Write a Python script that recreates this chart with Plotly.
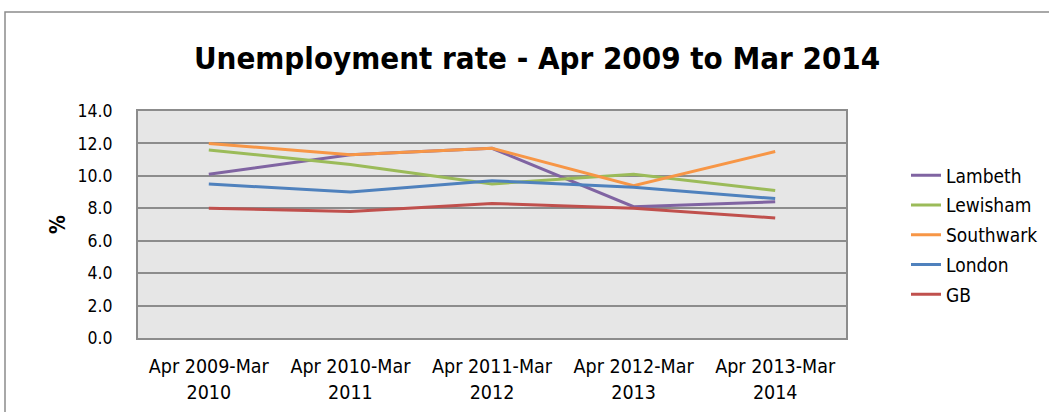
import plotly.graph_objects as go

categories = ["Apr 2009-Mar<br>2010", "Apr 2010-Mar<br>2011", "Apr 2011-Mar<br>2012",
              "Apr 2012-Mar<br>2013", "Apr 2013-Mar<br>2014"]
lambeth = [10.1, 11.3, 11.7, 8.1, 8.4]
lewisham = [11.6, 10.7, 9.5, 10.1, 9.1]
southwark = [12.0, 11.3, 11.7, 9.4, 11.5]
london = [9.5, 9.0, 9.7, 9.3, 8.6]
gb = [8.0, 7.8, 8.3, 8.0, 7.4]
y_ticks = [0, 2, 4, 6, 8, 10, 12, 14]

series = [
    ("Lambeth", lambeth, "#8064A2"),
    ("Lewisham", lewisham, "#9BBB59"),
    ("Southwark", southwark, "#F79646"),
    ("London", london, "#4F81BD"),
    ("GB", gb, "#C0504D"),
]

fig = go.Figure()
for name, vals, color in series:
    fig.add_trace(go.Scatter(x=categories, y=vals, name=name, mode="lines",
                             legendgroup=name,
                             line=dict(color=color, width=3)))

W, H = 1049, 412
ml, mr, mt, mb = 138, 203, 111, 74
pw = W - ml - mr
ph = H - mt - mb

font_family = "DejaVu Sans Condensed, Liberation Sans, Arial, sans-serif"

fig.update_layout(
    width=W, height=H,
    margin=dict(l=ml, r=mr, t=mt, b=mb, autoexpand=False),
    paper_bgcolor="white",
    plot_bgcolor="#E6E6E6",
    font=dict(family=font_family, size=16, color="#000000"),
    title=dict(text="<b>Unemployment rate - Apr 2009 to Mar 2014</b>",
               x=(537) / W, xanchor="center", xref="container",
               y=1 - 58 / H, yanchor="middle", yref="container",
               font=dict(size=31, family=font_family)),
    showlegend=True,
    legend=dict(x=(906 - ml) / pw, xanchor="left", y=(338 - 235) / ph, yanchor="middle",
                bgcolor="rgba(0,0,0,0)", font=dict(size=19), tracegroupgap=2,
                itemwidth=30),
    xaxis=dict(showgrid=False, showline=True, linecolor="#8C8C8C", linewidth=2, mirror=True,
               range=[-0.5, 4.5], automargin=False,
               tickfont=dict(size=19.5), ticks="", ticklabelstandoff=10),
    yaxis=dict(range=[0, 14], tickvals=y_ticks, tickformat=".1f", automargin=False,
               showgrid=True, gridcolor="#8C8C8C", gridwidth=2,
               showline=True, linecolor="#8C8C8C", linewidth=2, mirror=True,
               zeroline=False, ticks="", ticklabelstandoff=20,
               tickfont=dict(size=17.5),
               title=dict(text="<b>%</b>", font=dict(size=21), standoff=6)),
    shapes=[dict(type="rect", xref="paper", yref="paper",
                 x0=(5 - ml) / pw, x1=(1060 - ml) / pw,
                 y0=(H - mb - 430) / ph, y1=(H - mb - 12) / ph,
                 line=dict(color="#8C8C8C", width=1.5), fillcolor="rgba(0,0,0,0)",
                 layer="below")],
)

fig.write_html("out.html")
